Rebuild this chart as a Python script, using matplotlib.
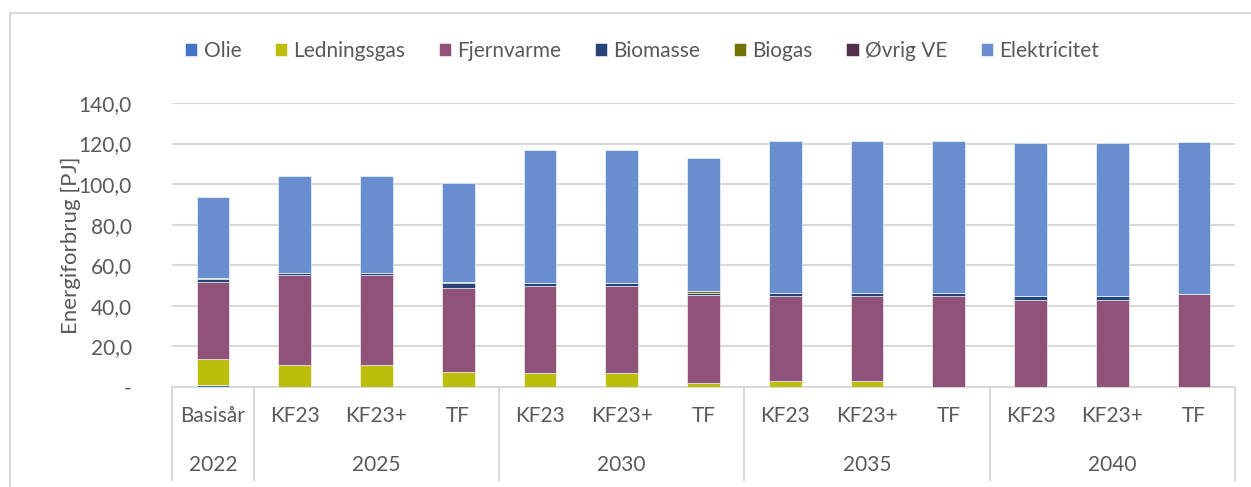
import matplotlib
matplotlib.use("Agg")
import matplotlib.pyplot as plt
from matplotlib.lines import Line2D
from matplotlib.ticker import FuncFormatter

plt.rcParams["font.family"] = ["Lato", "DejaVu Sans"]

TEXT = "#595959"
GRID = "#D9D9D9"

scenarios = ["Basisår", "KF23", "KF23+", "TF", "KF23", "KF23+", "TF",
             "KF23", "KF23+", "TF", "KF23", "KF23+", "TF"]
years = ["2022", "2025", "2030", "2035", "2040"]
year_sizes = [1, 3, 3, 3, 3]

olie = [1.0, 0, 0, 0.2, 0, 0, 0, 0, 0, 0, 0, 0, 0]
ledningsgas = [12.7, 10.7, 10.7, 7.4, 6.9, 6.9, 2.0, 2.8, 2.8, 0, 0, 0, 0]
fjernvarme = [37.9, 44.4, 44.4, 41.3, 43.1, 43.1, 43.4, 41.9, 41.9, 45.0, 42.7, 42.7, 45.9]
biomasse = [1.6, 1.2, 1.2, 2.4, 1.1, 1.1, 0.8, 1.5, 1.5, 1.2, 2.0, 2.0, 0]
biogas = [0.3, 0, 0, 0.3, 0, 0, 1.0, 0, 0, 0, 0, 0, 0]
ovrig_ve = [0, 0, 0, 0, 0, 0, 0, 0, 0, 0, 0, 0, 0]
elektricitet = [40.3, 47.7, 47.7, 48.9, 65.7, 65.7, 65.8, 75.1, 75.1, 75.1, 75.6, 75.6, 75.1]

series = [
    ("Olie", olie, "#4472C4"),
    ("Ledningsgas", ledningsgas, "#BBBE0A"),
    ("Fjernvarme", fjernvarme, "#8F5279"),
    ("Biomasse", biomasse, "#264478"),
    ("Biogas", biogas, "#6F7204"),
    ("Øvrig VE", ovrig_ve, "#522E4A"),
    ("Elektricitet", elektricitet, "#698ED0"),
]

fig = plt.figure(figsize=(12.51, 4.87), dpi=100)
ax = fig.add_axes([172 / 1251, 1 - 387 / 487, (1235 - 172) / 1251, (387 - 103) / 487])

x = list(range(len(scenarios)))
bottom = [0.0] * len(x)
handles = []
for name, vals, color in series:
    bars = ax.bar(x, vals, width=0.4, bottom=bottom, color=color,
                  edgecolor="white", linewidth=0.4, label=name, zorder=3)
    handles.append(bars)
    bottom = [b + v for b, v in zip(bottom, vals)]

ax.set_xlim(-0.5, len(x) - 0.5)
ax.set_ylim(0, 140)
ax.set_yticks(range(0, 141, 20))
ax.yaxis.set_major_formatter(FuncFormatter(lambda v, p: "-" if v == 0 else f"{v:.1f}".replace(".", ",")))
ax.tick_params(axis="y", length=0, pad=29, labelsize=15, labelcolor=TEXT)
ax.set_xticks([])
ax.grid(axis="y", color=GRID, linewidth=1.5, zorder=0)
for s in ["top", "right", "left"]:
    ax.spines[s].set_visible(False)
ax.spines["bottom"].set_color(GRID)
ax.spines["bottom"].set_linewidth(1.5)
ax.set_ylabel("Energiforbrug [PJ]", fontsize=16, color=TEXT, labelpad=-2)

# two-level category axis
tr = ax.get_xaxis_transform()
sub_y = -(416 - 387) / 284
year_y = -(465 - 387) / 284
line_end = -(480 - 387) / 284
for i, lab in enumerate(scenarios):
    ax.text(i, sub_y, lab, transform=tr, ha="center", va="center",
            fontsize=15, color=TEXT)
pos = -0.5
ax.plot([pos, pos], [0, line_end], transform=tr, color=GRID, lw=1.5, clip_on=False)
for yr, n in zip(years, year_sizes):
    ax.text(pos + n / 2, year_y, yr, transform=tr, ha="center", va="center",
            fontsize=15, color=TEXT)
    pos += n
    ax.plot([pos, pos], [0, line_end], transform=tr, color=GRID, lw=1.5, clip_on=False)

# chart border (top and left edges visible)
fig.add_artist(Line2D([10 / 1251, 1], [1 - 13 / 487, 1 - 13 / 487], color=GRID, lw=1.5))
fig.add_artist(Line2D([10 / 1251, 10 / 1251], [0, 1 - 13 / 487], color=GRID, lw=1.5))

fig.legend(handles=handles, labels=[s[0] for s in series], loc="center",
           bbox_to_anchor=(642 / 1251, 1 - 51 / 487), ncol=7, frameon=False,
           fontsize=15, labelcolor=TEXT, handlelength=0.6, handleheight=0.6,
           handletextpad=0.3, columnspacing=1.6)

fig.savefig("out.png", dpi=100)
